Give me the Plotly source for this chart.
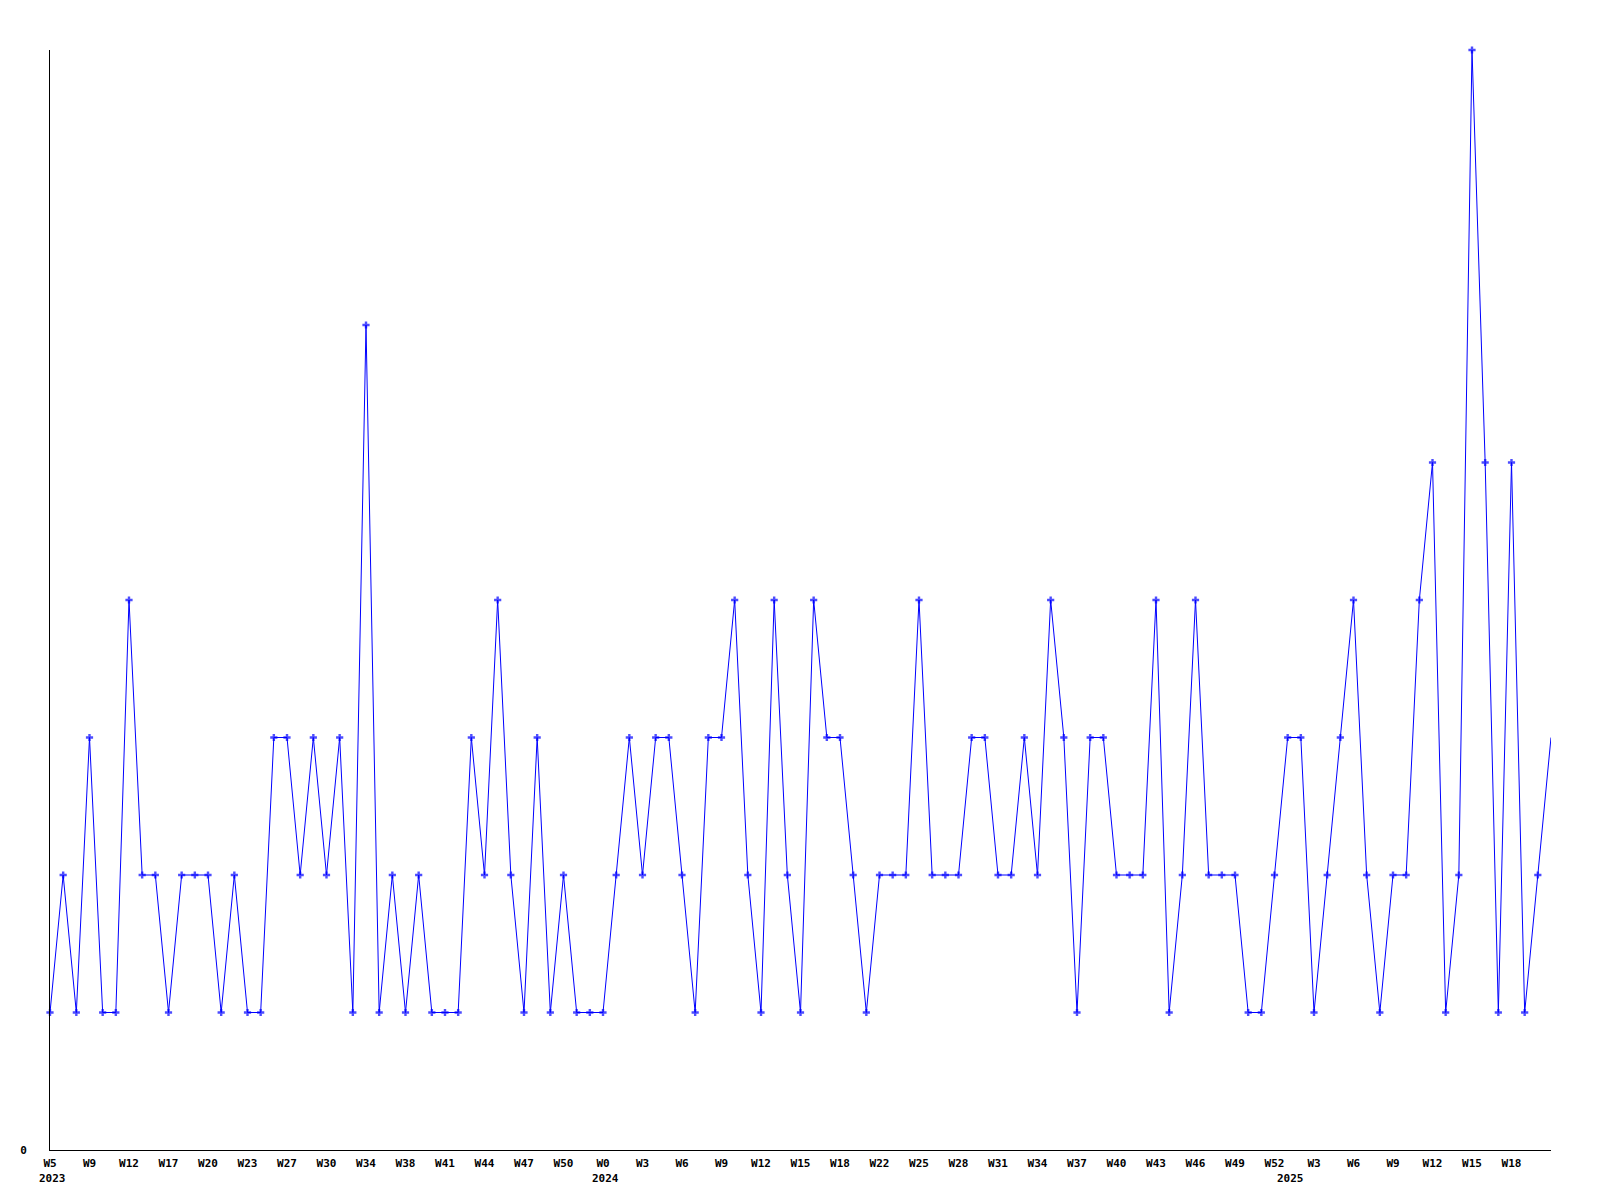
import plotly.graph_objects as go

values = [1, 2, 1, 3, 1, 1, 4, 2, 2, 1, 2, 2, 2, 1, 2, 1, 1, 3, 3, 2,
          3, 2, 3, 1, 6, 1, 2, 1, 2, 1, 1, 1, 3, 2, 4, 2, 1, 3, 1, 2,
          1, 1, 1, 2, 3, 2, 3, 3, 2, 1, 3, 3, 4, 2, 1, 4, 2, 1, 4, 3,
          3, 2, 1, 2, 2, 2, 4, 2, 2, 2, 3, 3, 2, 2, 3, 2, 4, 3, 1, 3,
          3, 2, 2, 2, 4, 1, 2, 4, 2, 2, 2, 1, 1, 2, 3, 3, 1, 2, 3, 4,
          2, 1, 2, 2, 4, 5, 1, 2, 8, 5, 1, 5, 1, 2, 3]

tick_labels = ["W5", "W9", "W12", "W17", "W20", "W23", "W27", "W30", "W34", "W38",
               "W41", "W44", "W47", "W50", "W0", "W3", "W6", "W9", "W12", "W15",
               "W18", "W22", "W25", "W28", "W31", "W34", "W37", "W40", "W43", "W46",
               "W49", "W52", "W3", "W6", "W9", "W12", "W15", "W18"]
tick_step = 3

year_labels = ["2023", "2024", "2025"]
year_positions = [0, 42, 94]

x = list(range(len(values)))
tickvals = [i * tick_step for i in range(len(tick_labels))]
sizes = [6] * (len(values) - 1) + [0]

FONT = "DejaVu Sans Mono"

fig = go.Figure()
fig.add_trace(go.Scatter(
    x=x, y=values, mode="lines+markers",
    line=dict(color="#0000ff", width=1),
    marker=dict(symbol="cross", size=sizes, color="#0000ff", line=dict(width=0)),
    cliponaxis=False, showlegend=False, hoverinfo="skip",
))

for label, pos in zip(year_labels, year_positions):
    fig.add_annotation(
        x=pos, y=0, xref="x", yref="y", text=label, showarrow=False,
        xanchor="left", yanchor="middle", xshift=-13, yshift=-28,
        font=dict(family=FONT, size=11, color="#000000", weight="bold"),
    )

fig.update_layout(
    width=1584, height=1184,
    margin=dict(l=42, r=41, t=42, b=42, pad=0),
    plot_bgcolor="#ffffff", paper_bgcolor="#ffffff",
    font=dict(family=FONT, size=11, color="#000000", weight="bold"),
)
fig.update_xaxes(
    range=[0, len(values) - 1], showgrid=False, zeroline=False,
    showline=True, linecolor="#000000", linewidth=1,
    tickmode="array", tickvals=tickvals, ticktext=tick_labels,
    ticks="", ticklabelstandoff=3,
    tickfont=dict(family=FONT, size=11, color="#000000", weight="bold"),
)
fig.update_yaxes(
    range=[0, 8], showgrid=False, zeroline=False,
    showline=True, linecolor="#000000", linewidth=1,
    tickmode="array", tickvals=[0], ticktext=["0"],
    ticks="", ticklabelstandoff=20,
    tickfont=dict(family=FONT, size=11, color="#000000", weight="bold"),
)

fig.write_html("out.html")
